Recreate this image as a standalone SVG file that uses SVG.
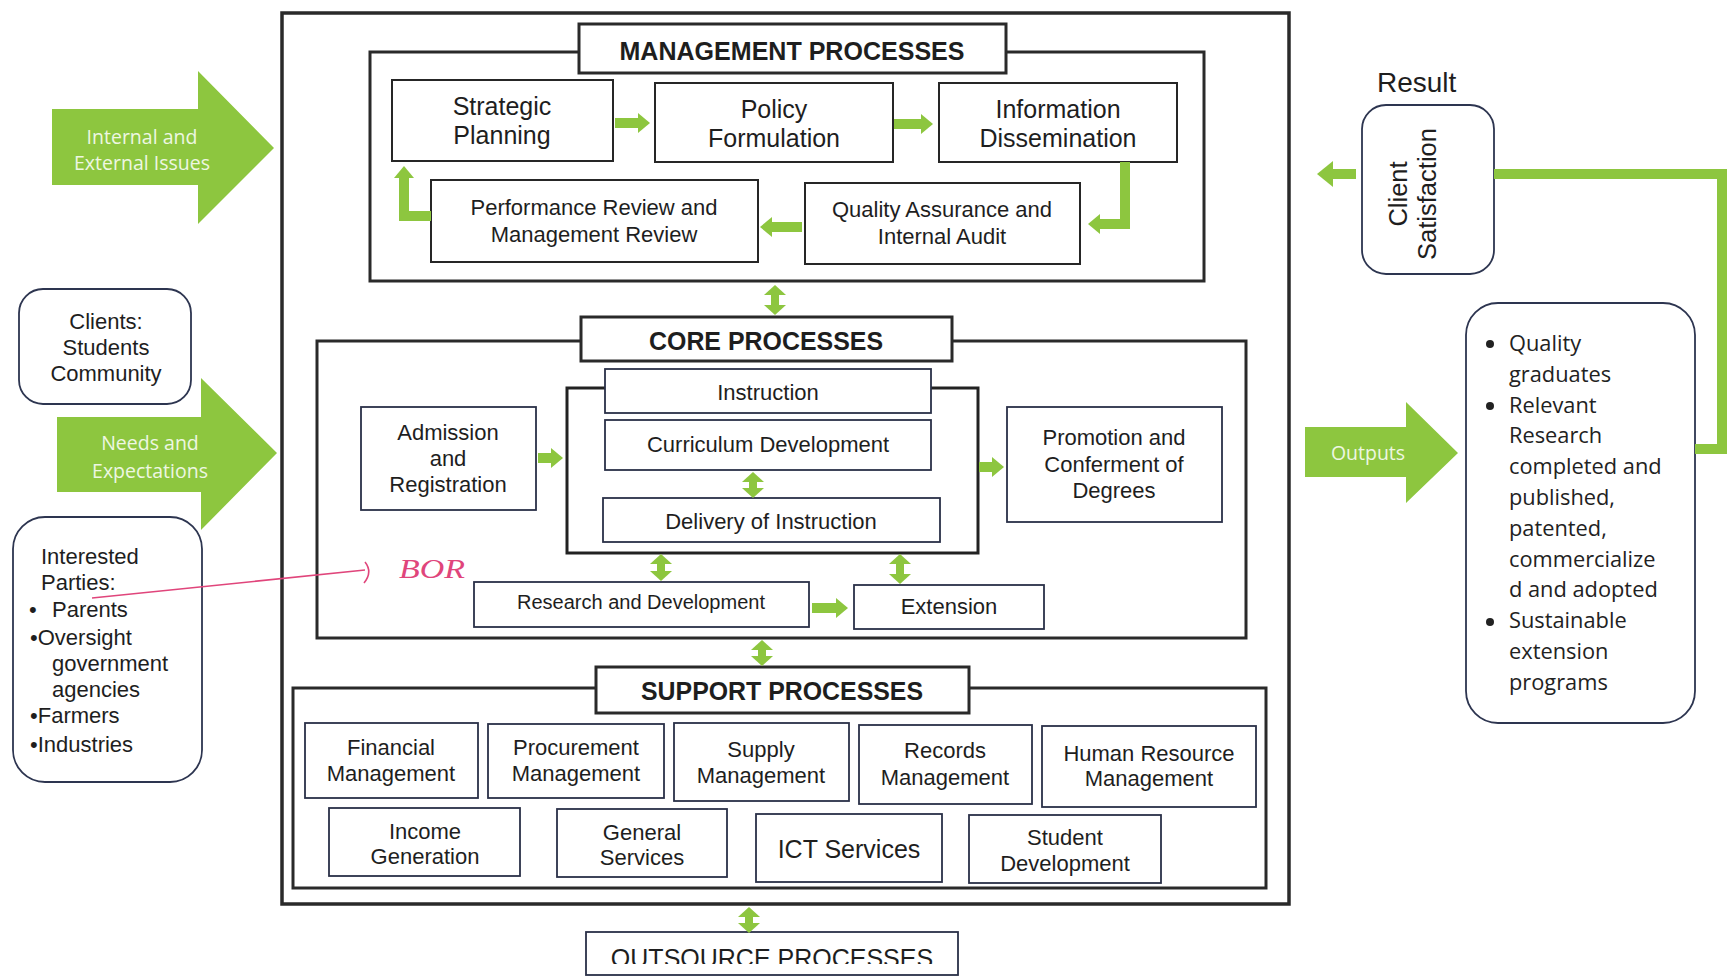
<svg xmlns="http://www.w3.org/2000/svg" width="1728" height="978" viewBox="0 0 1728 978">
<style>
.t{font-family:"Liberation Sans",Arial,sans-serif;fill:#1e1e1e;text-anchor:middle;font-size:22px}
.l{text-anchor:start}
.m{font-size:25px}
.b{fill:#fff;stroke:#262626;stroke-width:2}
.bn{fill:#fff;stroke:#2a3048;stroke-width:1.8}
.sec{fill:none;stroke:#2a2a2a;stroke-width:3}
.tb{fill:#fff;stroke:#2a2a2a;stroke-width:3}
.ttl{font-weight:bold;font-size:26px}
.rb{fill:#fff;stroke:#2d3550;stroke-width:1.8}
.ga{fill:#8dc63f}
.gt{font-family:"Open Sans",sans-serif;fill:#eef7e2;font-size:19.5px;text-anchor:middle}
.c{fill:none;stroke:#8dc63f;stroke-width:10;stroke-linejoin:miter}
.d{fill:none;stroke:#8dc63f;stroke-width:8}
.ol{font-family:"Open Sans",sans-serif;fill:#222;font-size:21.8px}
</style>
<defs>
<marker id="ah" viewBox="0 0 12 20" refX="0" refY="10" markerWidth="12" markerHeight="20" markerUnits="userSpaceOnUse" orient="auto-start-reverse"><path d="M0,0 L12,10 L0,20 z" fill="#8dc63f"/></marker>
<marker id="dh" viewBox="0 0 10 22" refX="0" refY="11" markerWidth="10" markerHeight="22" markerUnits="userSpaceOnUse" orient="auto-start-reverse"><path d="M0,0 L10,11 L0,22 z" fill="#8dc63f"/></marker>
<marker id="ahL" viewBox="0 0 16 26" refX="0" refY="13" markerWidth="16" markerHeight="26" markerUnits="userSpaceOnUse" orient="auto"><path d="M0,0 L16,13 L0,26 z" fill="#8dc63f"/></marker>
<clipPath id="oc"><rect x="586" y="930" width="372" height="34"/></clipPath>
</defs>
<rect width="1728" height="978" fill="#fff"/>

<g id="outer-frame"><rect x="282" y="13" width="1007" height="891" fill="none" stroke="#2a2a2a" stroke-width="3.5"/></g>

<g id="management-section">
<rect class="sec" x="370" y="52" width="834" height="229"/>
<rect class="tb" x="579" y="24" width="427" height="49"/>
<text class="t ttl" x="792" y="60" textLength="345" lengthAdjust="spacingAndGlyphs">MANAGEMENT PROCESSES</text>
</g>
<g id="strategic-planning"><rect class="b" x="392" y="80" width="221" height="81"/><text class="t m" x="502" y="115">Strategic</text><text class="t m" x="502" y="144">Planning</text></g>
<g id="policy-formulation"><rect class="b" x="655" y="83" width="238" height="79"/><text class="t m" x="774" y="118">Policy</text><text class="t m" x="774" y="147">Formulation</text></g>
<g id="information-dissemination"><rect class="b" x="939" y="83" width="238" height="79"/><text class="t m" x="1058" y="118">Information</text><text class="t m" x="1058" y="147">Dissemination</text></g>
<g id="performance-review"><rect class="b" x="431" y="180" width="327" height="82"/><text class="t" x="594" y="215">Performance Review and</text><text class="t" x="594" y="242">Management Review</text></g>
<g id="quality-assurance"><rect class="b" x="805" y="183" width="275" height="81"/><text class="t" x="942" y="217">Quality Assurance and</text><text class="t" x="942" y="244">Internal Audit</text></g>

<g id="core-section">
<rect class="sec" x="317" y="341" width="929" height="297"/>
<rect class="tb" x="581" y="317" width="371" height="44"/>
<text class="t ttl" x="766" y="350" textLength="234" lengthAdjust="spacingAndGlyphs">CORE PROCESSES</text>
</g>
<g id="instruction-group"><rect x="567" y="388" width="411" height="165" fill="none" stroke="#222" stroke-width="3"/></g>
<g id="instruction"><rect class="bn" x="605" y="369" width="326" height="44"/><text class="t" x="768" y="400">Instruction</text></g>
<g id="curriculum-development"><rect class="bn" x="605" y="420" width="326" height="50"/><text class="t" x="768" y="452">Curriculum Development</text></g>
<g id="delivery-of-instruction"><rect class="bn" x="603" y="498" width="337" height="44"/><text class="t" x="771" y="529">Delivery of Instruction</text></g>
<g id="admission-registration"><rect class="bn" x="361" y="407" width="175" height="103"/><text class="t" x="448" y="440">Admission</text><text class="t" x="448" y="466">and</text><text class="t" x="448" y="492">Registration</text></g>
<g id="promotion-conferment"><rect class="bn" x="1007" y="407" width="215" height="115"/><text class="t" x="1114" y="445">Promotion and</text><text class="t" x="1114" y="472">Conferment of</text><text class="t" x="1114" y="498">Degrees</text></g>
<g id="research-development"><rect class="bn" x="474" y="582" width="335" height="45"/><text class="t" x="641" y="609" style="font-size:20px">Research and Development</text></g>
<g id="extension"><rect class="bn" x="854" y="585" width="190" height="44"/><text class="t" x="949" y="614">Extension</text></g>

<g id="support-section">
<rect class="sec" x="293" y="688" width="973" height="200"/>
<rect class="tb" x="596" y="667" width="373" height="46"/>
<text class="t ttl" x="782" y="700" textLength="282" lengthAdjust="spacingAndGlyphs">SUPPORT PROCESSES</text>
</g>
<g id="financial-management"><rect class="bn" x="305" y="723" width="173" height="75"/><text class="t" x="391" y="755">Financial</text><text class="t" x="391" y="781">Management</text></g>
<g id="procurement-management"><rect class="bn" x="488" y="724" width="176" height="74"/><text class="t" x="576" y="755">Procurement</text><text class="t" x="576" y="781">Management</text></g>
<g id="supply-management"><rect class="bn" x="674" y="723" width="175" height="78"/><text class="t" x="761" y="757">Supply</text><text class="t" x="761" y="783">Management</text></g>
<g id="records-management"><rect class="bn" x="859" y="725" width="173" height="79"/><text class="t" x="945" y="758">Records</text><text class="t" x="945" y="785">Management</text></g>
<g id="human-resource-management"><rect class="bn" x="1042" y="726" width="214" height="81"/><text class="t" x="1149" y="761">Human Resource</text><text class="t" x="1149" y="786">Management</text></g>
<g id="income-generation"><rect class="bn" x="329" y="808" width="191" height="68"/><text class="t" x="425" y="839">Income</text><text class="t" x="425" y="864">Generation</text></g>
<g id="general-services"><rect class="bn" x="557" y="809" width="170" height="68"/><text class="t" x="642" y="840">General</text><text class="t" x="642" y="865">Services</text></g>
<g id="ict-services"><rect class="bn" x="756" y="814" width="186" height="68"/><text class="t" x="849" y="858" style="font-size:25px">ICT Services</text></g>
<g id="student-development"><rect class="bn" x="969" y="815" width="192" height="68"/><text class="t" x="1065" y="845">Student</text><text class="t" x="1065" y="871">Development</text></g>

<g id="outsource-processes"><rect class="bn" x="586" y="932" width="372" height="43"/><text class="t" x="772" y="967" style="font-size:25px" clip-path="url(#oc)">OUTSOURCE PROCESSES</text></g>

<g id="internal-external-issues"><polygon class="ga" points="52,109 198,109 198,71 274,148 198,224 198,185 52,185"/><text class="gt" x="142" y="144">Internal and</text><text class="gt" x="142" y="170">External Issues</text></g>
<g id="clients"><rect class="rb" x="19" y="289" width="172" height="115" rx="24"/><text class="t" x="106" y="329">Clients:</text><text class="t" x="106" y="355">Students</text><text class="t" x="106" y="381">Community</text></g>
<g id="needs-expectations"><polygon class="ga" points="57,417 201,417 201,378 277,453 201,530 201,492 57,492"/><text class="gt" x="150" y="450">Needs and</text><text class="gt" x="150" y="478">Expectations</text></g>
<g id="interested-parties"><rect class="rb" x="13" y="517" width="189" height="265" rx="32"/>
<text class="t l" x="41" y="564">Interested</text>
<text class="t l" x="41" y="590">Parties:</text>
<text class="t l" y="617"><tspan x="29">•</tspan><tspan x="52">Parents</tspan></text>
<text class="t l" x="30" y="645">•Oversight</text>
<text class="t l" x="52" y="671">government</text>
<text class="t l" x="52" y="697">agencies</text>
<text class="t l" x="30" y="723">•Farmers</text>
<text class="t l" x="30" y="752">•Industries</text>
</g>

<g id="annotation">
<path d="M92,598 L365,570" fill="none" stroke="#e0457b" stroke-width="1.6"/>
<path d="M365,562 Q373,572 364,583" fill="none" stroke="#e0457b" stroke-width="1.6"/>
<text x="399" y="578" font-family="'Liberation Serif',serif" font-style="italic" font-size="28" fill="#e0457b" textLength="66" lengthAdjust="spacingAndGlyphs">BOR</text>
</g>

<g id="result"><text class="t l" x="1377" y="92" style="font-size:28px">Result</text></g>
<g id="client-satisfaction"><rect class="rb" x="1362" y="105" width="132" height="169" rx="24"/>
<text class="t" style="font-size:25.5px" transform="translate(1407,194) rotate(-90)">Client</text>
<text class="t" style="font-size:25.5px" transform="translate(1436,194) rotate(-90)">Satisfaction</text></g>
<g id="outputs-arrow"><polygon class="ga" points="1305,427 1406,427 1406,402 1458,453 1406,503 1406,477 1305,477"/><text class="gt" x="1368" y="460">Outputs</text></g>
<g id="outputs"><rect class="rb" x="1466" y="303" width="229" height="420" rx="32"/>
<circle cx="1490" cy="344" r="4" fill="#222"/><circle cx="1490" cy="406" r="4" fill="#222"/><circle cx="1490" cy="622" r="4" fill="#222"/>
<text class="ol" x="1509" y="351">Quality</text>
<text class="ol" x="1509" y="382">graduates</text>
<text class="ol" x="1509" y="413">Relevant</text>
<text class="ol" x="1509" y="443">Research</text>
<text class="ol" x="1509" y="474">completed and</text>
<text class="ol" x="1509" y="505">published,</text>
<text class="ol" x="1509" y="536">patented,</text>
<text class="ol" x="1509" y="567">commercialize</text>
<text class="ol" x="1509" y="597">d and adopted</text>
<text class="ol" x="1509" y="628">Sustainable</text>
<text class="ol" x="1509" y="659">extension</text>
<text class="ol" x="1509" y="690">programs</text>
</g>

<g id="connectors">
<path class="c" d="M615,123 H638" marker-end="url(#ah)"/>
<path class="c" d="M894,124 H921" marker-end="url(#ah)"/>
<path class="c" d="M1125,162 V224 H1100" marker-end="url(#ah)"/>
<path class="c" d="M802,227 H772" marker-end="url(#ah)"/>
<path class="c" d="M431,216 H404 V178" stroke-width="11" marker-end="url(#ah)"/>
<path class="c" d="M538,458 H551" stroke-width="9" marker-end="url(#ah)"/>
<path class="c" d="M979,467 H992" stroke-width="9" marker-end="url(#ah)"/>
<path class="c" d="M812,608 H836" marker-end="url(#ah)"/>
<path class="d" d="M775,295 V305" marker-start="url(#dh)" marker-end="url(#dh)"/>
<path class="d" d="M753,482 V488" marker-start="url(#dh)" marker-end="url(#dh)"/>
<path class="d" d="M661,564 V571" marker-start="url(#dh)" marker-end="url(#dh)"/>
<path class="d" d="M900,564 V574" marker-start="url(#dh)" marker-end="url(#dh)"/>
<path class="d" d="M762,650 V656" marker-start="url(#dh)" marker-end="url(#dh)"/>
<path class="d" d="M749,917 V923" marker-start="url(#dh)" marker-end="url(#dh)"/>
<path class="c" d="M1356,174 H1333" stroke-width="14" marker-end="url(#ahL)"/>
<path class="c" d="M1494,174 H1722 V449 H1695" stroke-width="12"/>
</g>
</svg>
